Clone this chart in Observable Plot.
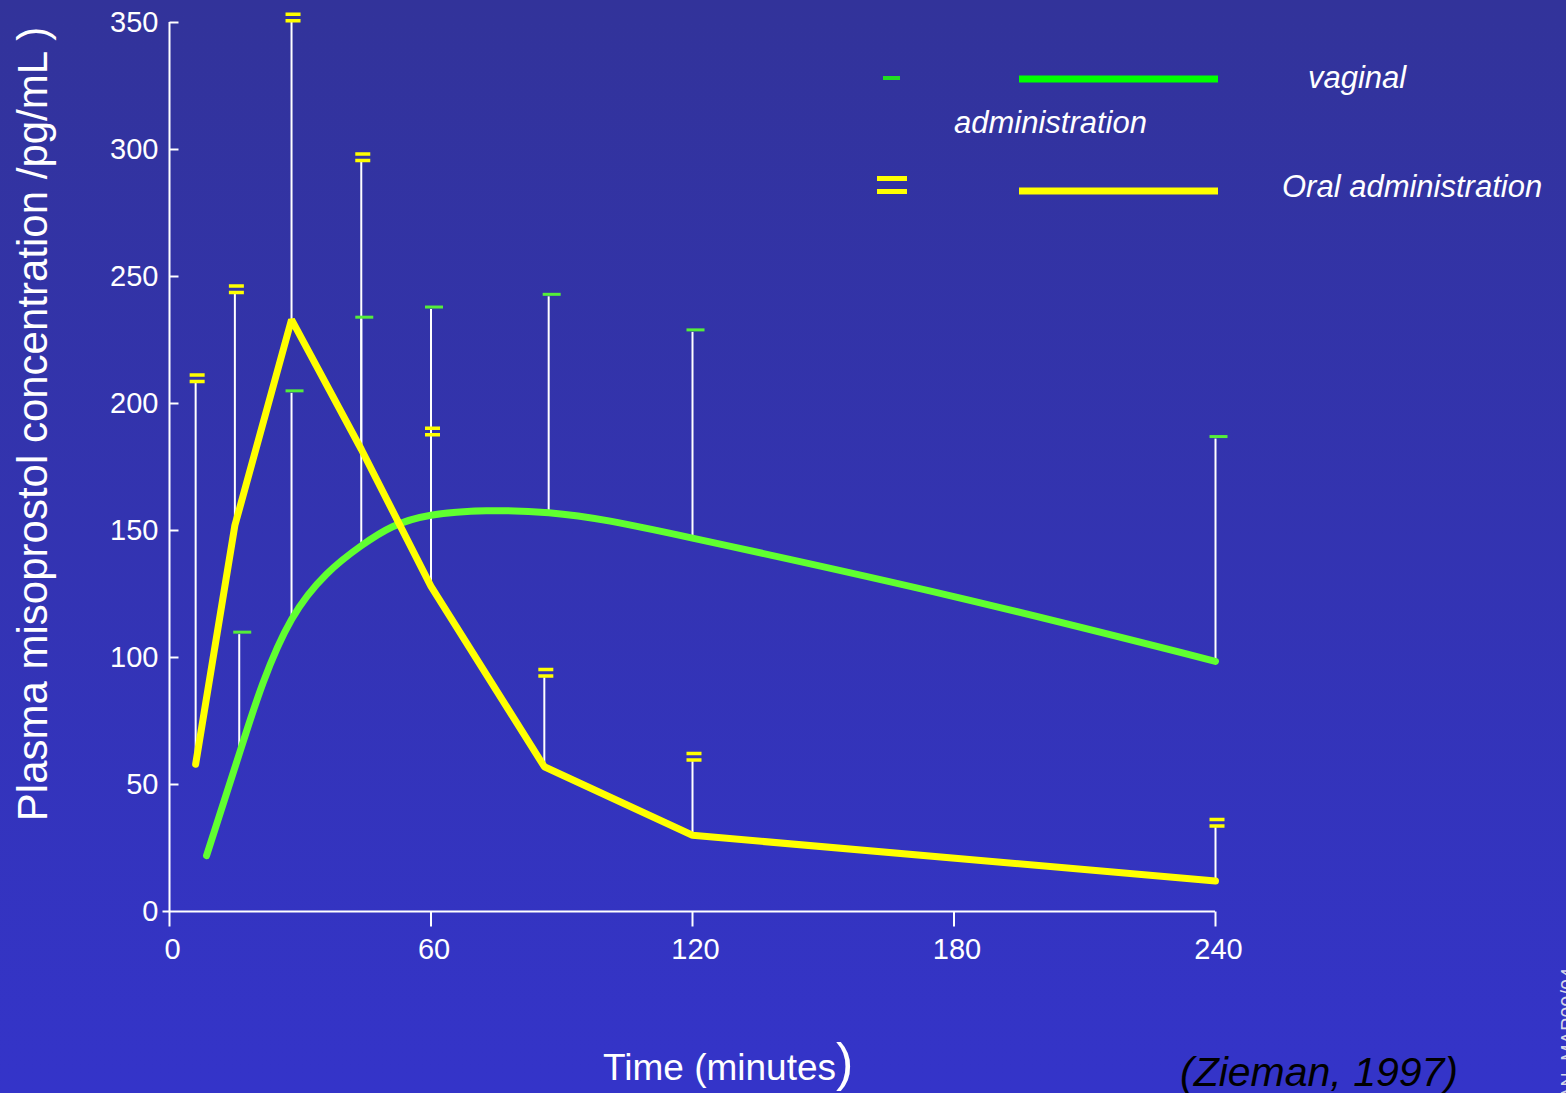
<!DOCTYPE html>
<html><head><meta charset="utf-8">
<script src="https://cdn.jsdelivr.net/npm/d3@7"></script>
<script src="https://cdn.jsdelivr.net/npm/@observablehq/plot@0.6"></script>
<style>
html,body{margin:0;padding:0;}
body{width:1566px;height:1093px;overflow:hidden;background:linear-gradient(to bottom,#32339a 0%,#3434c9 100%);font-family:"Liberation Sans",Arial,sans-serif;}
#chart svg{display:block;}
</style></head><body><div id="chart"></div>
<script>
// ---- data ----
const xTicks = [0, 60, 120, 180, 240];
const yTicks = [0, 50, 100, 150, 200, 250, 300, 350];

// Oral administration (yellow)
const oralTime  = [6, 15, 28, 44, 60, 86, 120, 240];
const oralMean  = [58, 152, 233, 182, 128, 57, 30, 12];
const oralUpper = [208, 243, 350, 295, 187, 92, 59, 33];

// Vaginal administration (green) – smooth curve points
const vagCurveTime = [8.5, 16, 28, 44, 60, 87, 120, 180, 240];
const vagCurveMean = [22, 62, 115, 144, 156, 157, 147, 124, 98.5];
// Vaginal error bars
const vagTime  = [16, 28, 44, 60, 87, 120, 240];
const vagMean  = [62, 115, 144, 156, 157, 147, 98.5];
const vagUpper = [109, 204, 233, 237, 242, 228, 186];

const oral = oralTime.map((t, i) => ({t, mean: oralMean[i], upper: oralUpper[i]}));
const vagCurve = vagCurveTime.map((t, i) => ({t, mean: vagCurveMean[i]}));
const vag = vagTime.map((t, i) => ({t, mean: vagMean[i], upper: vagUpper[i]}));

// custom symbols (pixel shapes anchored at data positions)
const capDouble = {draw(c){ c.rect(-6, -10, 15, 3.5); c.rect(-6, -3.5, 15, 3.5); }};
const capSingle = {draw(c){ c.rect(-6, -4, 18, 3); }};
const tickYIn   = {draw(c){ c.moveTo(0, 0); c.lineTo(9, 0); }};
const tickYOut  = {draw(c){ c.moveTo(-7, 0); c.lineTo(0, 0); }};
const tickXDown = {draw(c){ c.moveTo(0, 0); c.lineTo(0, 15); }};

const plot = Plot.plot({
  width: 1566,
  height: 1093,
  marginLeft: 169,
  marginRight: 351,
  marginTop: 22,
  marginBottom: 182,
  style: {background: "transparent", color: "white", fontFamily: "'Liberation Sans', Arial, sans-serif"},
  x: {domain: [0, 240]},
  y: {domain: [0, 350]},
  marks: [
    // axes lines
    Plot.ruleX([0], {y1: 0, y2: 350, stroke: "white", strokeWidth: 2}),
    Plot.ruleY([0], {x1: 0, x2: 240, stroke: "white", strokeWidth: 2}),
    Plot.dot(yTicks.filter(d => d > 0), {x: 0, y: d => d, symbol: tickYIn, stroke: "white", strokeWidth: 2, fill: "none"}),
    Plot.dot([0], {x: 0, y: d => d, symbol: tickYOut, stroke: "white", strokeWidth: 2, fill: "none"}),
    Plot.dot(xTicks, {x: d => d, y: 0, symbol: tickXDown, stroke: "white", strokeWidth: 2, fill: "none"}),
    Plot.axisY({ticks: yTicks, tickSize: 0, tickPadding: 11, fontSize: 29, label: null, tickFormat: d => String(d)}),
    Plot.axisX({ticks: xTicks, tickSize: 0, tickPadding: 27, dx: 3, fontSize: 29, label: null, tickFormat: d => String(d)}),
    // error bars
    Plot.ruleX(oral, {x: "t", y1: "mean", y2: "upper", stroke: "white", strokeWidth: 2}),
    Plot.ruleX(vag, {x: "t", y1: "mean", y2: "upper", stroke: "white", strokeWidth: 2}),
    Plot.dot(oral, {x: "t", y: "upper", symbol: capDouble, fill: "#ffff00", stroke: "none"}),
    Plot.dot(vag, {x: "t", y: "upper", symbol: capSingle, fill: "#55ee3a", stroke: "none"}),
    // lines
    Plot.line(vagCurve, {x: "t", y: "mean", stroke: "#60ff30", strokeWidth: 7, curve: "natural"}),
    Plot.line(oral, {x: "t", y: "mean", stroke: "#ffff00", strokeWidth: 7, strokeLinejoin: "miter"})
  ]
});

document.getElementById("chart").appendChild(plot);

// ---- labels, legend, caption ----
const svg = d3.select(plot);
const g = svg.append("g")
  .attr("font-family", "'Liberation Sans', Arial, sans-serif")
  .attr("text-anchor", "start");

g.append("text")
  .attr("transform", "translate(47,424) rotate(-90)")
  .attr("text-anchor", "middle").attr("font-size", 42).attr("fill", "white")
  .style("white-space", "pre")
  .text("Plasma misoprostol concentration /pg/mL )");

const tl = g.append("text").attr("x", 603).attr("y", 1080).attr("font-size", 37).attr("fill", "white");
tl.append("tspan").text("Time (minutes");
tl.append("tspan").attr("font-size", 52).text(")");

g.append("text").attr("x", 1180).attr("y", 1086).attr("font-size", 41)
  .attr("font-style", "italic").attr("fill", "#000").text("(Zieman, 1997)");

// legend
g.append("rect").attr("x", 883).attr("y", 76).attr("width", 17).attr("height", 4).attr("fill", "#22dd22");
g.append("rect").attr("x", 1019).attr("y", 75.5).attr("width", 199).attr("height", 7).attr("fill", "#00ff00");
g.append("text").attr("x", 1308).attr("y", 88).attr("font-size", 31).attr("font-style", "italic").attr("fill", "white").text("vaginal");
g.append("text").attr("x", 954).attr("y", 133).attr("font-size", 31).attr("font-style", "italic").attr("fill", "white").text("administration");
g.append("rect").attr("x", 877).attr("y", 176).attr("width", 30).attr("height", 5).attr("fill", "#ffff00");
g.append("rect").attr("x", 877).attr("y", 189).attr("width", 30).attr("height", 5).attr("fill", "#ffff00");
g.append("rect").attr("x", 1019).attr("y", 187.5).attr("width", 199).attr("height", 7).attr("fill", "#ffff00");
g.append("text").attr("x", 1282).attr("y", 197).attr("font-size", 31).attr("font-style", "italic").attr("fill", "white").text("Oral administration");

// slide code at right edge (cut off in the reference too)
g.append("text").attr("transform", "translate(1575,1100) rotate(-90)")
  .attr("font-size", 20).attr("fill", "#d8d8e8").text("AN_MAP09/04");
</script>
</body></html>
